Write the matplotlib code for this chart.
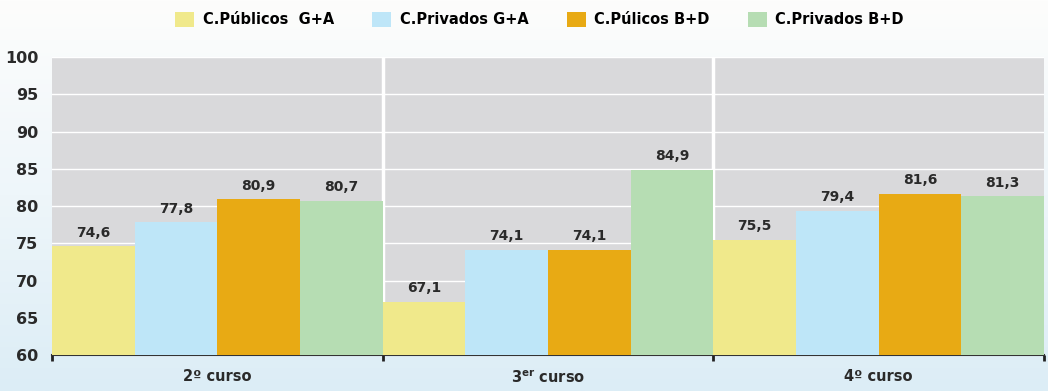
import numpy as np
import matplotlib.pyplot as plt
from matplotlib.ticker import FixedLocator

cursos = ["2º curso", "3$^{\\mathregular{er}}$ curso", "4º curso"]
series = ["C.Públicos  G+A", "C.Privados G+A", "C.Púlicos B+D", "C.Privados B+D"]
pub_ga = [74.6, 67.1, 75.5]
priv_ga = [77.8, 74.1, 79.4]
pub_bd = [80.9, 74.1, 81.6]
priv_bd = [80.7, 84.9, 81.3]
colores = ["#f0e98b", "#bee6f8", "#e8aa14", "#b6ddb3"]

valores = [pub_ga, priv_ga, pub_bd, priv_bd]

fig = plt.figure(figsize=(10.48, 3.91), dpi=100)
# fondo azulado suave
grad = np.linspace(0, 1, 256).reshape(-1, 1)
bg = fig.add_axes([0, 0, 1, 1], zorder=-10)
bg.imshow(grad, aspect="auto", cmap=plt.matplotlib.colors.LinearSegmentedColormap.from_list(
    "bg", ["#fdfdfc", "#eef6fa", "#dcedf6"]), extent=[0, 1, 0, 1], origin="upper")
bg.axis("off")

ax = fig.add_axes([0.0496, 0.092, 0.9466, 0.762])
ax.set_facecolor("#d9d9db")
x = np.arange(len(cursos))
w = 0.25
for i, (vals, c, lab) in enumerate(zip(valores, colores, series)):
    pos = x - 0.375 + i * w
    ax.bar(pos, np.array(vals) - 60, width=w, bottom=60, color=c, label=lab, zorder=3)
    for p, v in zip(pos, vals):
        ax.text(p, v + 0.9, f"{v:.1f}".replace(".", ","), ha="center", va="bottom",
                fontsize=10, fontweight="bold", color="#2a2a2a", zorder=4)

ax.set_ylim(60, 100)
ax.set_xlim(-0.5, 2.5)
ax.set_yticks(range(60, 101, 5))
ax.yaxis.grid(True, color="white", linewidth=1.0, zorder=1)
ax.set_axisbelow(True)
for xb in [0.5, 1.5]:
    ax.axvline(xb, color="white", linewidth=2.5, zorder=2)
ax.set_xticks(x)
ax.set_xticklabels(cursos, fontsize=10.5, fontweight="bold", color="#2a2a2a")
ax.xaxis.set_minor_locator(FixedLocator([-0.5, 0.5, 1.5, 2.5]))
ax.tick_params(axis="x", which="major", length=0, pad=10)
ax.tick_params(axis="x", which="minor", length=4, width=2, color="#222222", direction="out")
ax.tick_params(axis="y", length=0, pad=10, labelsize=11.5, labelcolor="#2a2a2a")
for t in ax.get_yticklabels():
    t.set_fontweight("bold")
for s in ["top", "right", "left"]:
    ax.spines[s].set_visible(False)
ax.spines["bottom"].set_color("#333333")
ax.spines["bottom"].set_linewidth(1.5)

fig.legend(loc="center", bbox_to_anchor=(0.515, 0.95), ncol=4, frameon=False,
           prop={"weight": "bold", "size": 10.5}, handlelength=1.3, handleheight=1.3,
           columnspacing=2.6, handletextpad=0.6)

fig.savefig("out.png", dpi=100)
